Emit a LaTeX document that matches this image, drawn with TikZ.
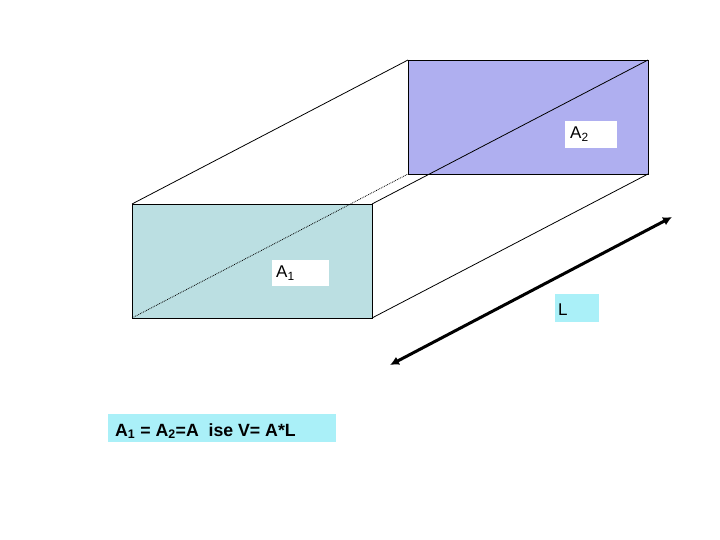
\documentclass[tikz,border=0pt]{standalone}
\usepackage{fontspec}
\setmainfont{Liberation Sans}
\usetikzlibrary{arrows.meta}
\begin{document}
\begin{tikzpicture}[x=1pt,y=-1pt,
  edge/.style={line width=0.8pt},
  box/.style={inner sep=0pt,anchor=north west},
  txt/.style={anchor=west,inner sep=0pt,font=\fontsize{17}{19}\selectfont}]
\useasboundingbox (0,0) rectangle (720,540);
\fill[white] (0,0) rectangle (720,540);
\coordinate (b1) at (408,60); \coordinate (b2) at (648,60);
\coordinate (b3) at (648,174); \coordinate (b4) at (408,174);
\coordinate (f1) at (132,204); \coordinate (f2) at (372,204);
\coordinate (f3) at (372,318); \coordinate (f4) at (132,318);
\fill[fill={rgb,255:red,175;green,175;blue,240}] (b1) rectangle (b3);
\fill[fill={rgb,255:red,187;green,223;blue,226}] (f1) rectangle (f3);
\draw[edge] (b1) rectangle (b3);
\draw[edge] (f1) -- (b1) (f2) -- (b2) (f3) -- (b3);
\draw[edge,densely dotted] (f4) -- (b4);
\draw[edge] (f1) rectangle (f3);
\node[box,fill=white,minimum width=52pt,minimum height=27pt] (a2) at (565,121) {};
\node[txt] (a2t) at (570,134) {A\textsubscript{2}};
\node[box,fill=white,minimum width=57pt,minimum height=26pt] (a1) at (272,260) {};
\node[txt] (a1t) at (276,273) {A\textsubscript{1}};
\node[box,fill={rgb,255:red,170;green,240;blue,248},minimum width=44pt,minimum height=28pt] (l) at (555,294) {};
\node[txt] (lt) at (558,310) {L};
\node[box,fill={rgb,255:red,170;green,240;blue,248},minimum width=228pt,minimum height=28pt] (eq) at (108,414) {};
\node[txt,font=\bfseries\fontsize{17.7}{20}\selectfont] (eqt) at (115,431) {A\textsubscript{1} = A\textsubscript{2}=A\ \ ise V= A*L};
\coordinate (p) at (390,365); \coordinate (q) at (672,217);
\draw[line width=3pt,{Latex[length=9pt,width=9pt]}-{Latex[length=9pt,width=9pt]}] (p) -- (q);
\end{tikzpicture}
\end{document}
